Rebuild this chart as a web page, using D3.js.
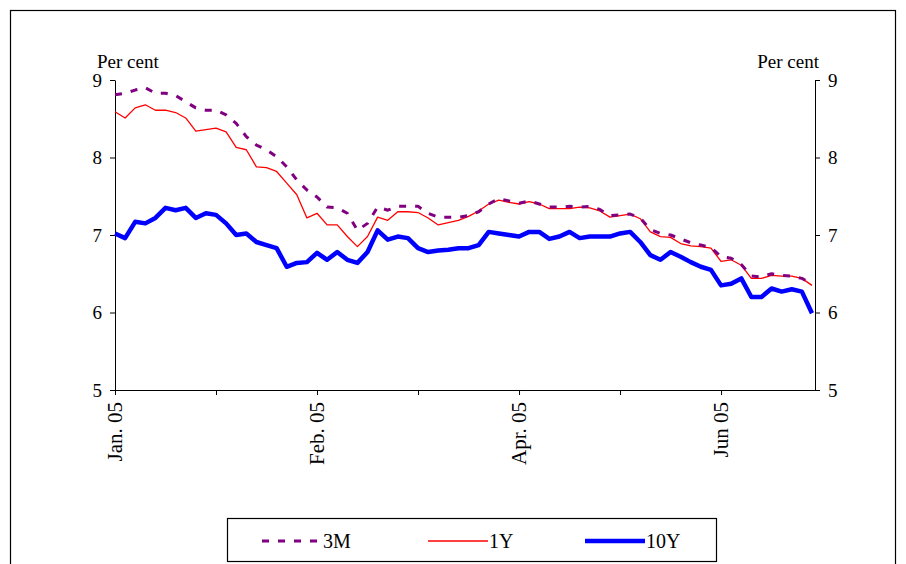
<!DOCTYPE html>
<html>
<head>
<meta charset="UTF-8">
<script src="https://d3js.org/d3.v7.min.js"></script>
<style>
  body { margin: 0; background: #fff; }
  svg text { font-family: "Liberation Serif", "DejaVu Serif", serif !important; fill: #000; }
</style>
</head>
<body>
<svg id="chart" width="906" height="564"></svg>
<script>
// tick labels placed at index positions
const tickLabels = [
  { i: 0, label: "Jan. 05" },
  { i: 20, label: "Feb. 05" },
  { i: 40, label: "Apr. 05" },
  { i: 60, label: "Jun 05" }
];
const rate3M = [8.81, 8.83, 8.87, 8.9, 8.83, 8.83, 8.8, 8.72, 8.64, 8.61,
  8.61, 8.55, 8.44, 8.27, 8.16, 8.1, 8.01, 7.88, 7.71, 7.58,
  7.49, 7.36, 7.35, 7.28, 7.06, 7.15, 7.36, 7.32, 7.37, 7.37,
  7.37, 7.28, 7.23, 7.23, 7.23, 7.25, 7.3, 7.4, 7.47, 7.44,
  7.41, 7.44, 7.4, 7.36, 7.36, 7.37, 7.36, 7.37, 7.33, 7.25,
  7.26, 7.27, 7.22, 7.07, 7.02, 7.0, 6.95, 6.9, 6.87, 6.84,
  6.72, 6.7, 6.62, 6.47, 6.46, 6.5, 6.48, 6.47, 6.44, 6.37];
const rate1Y = [8.59, 8.51, 8.64, 8.68, 8.61, 8.61, 8.58, 8.51, 8.34, 8.36,
  8.38, 8.33, 8.13, 8.1, 7.88, 7.87, 7.82, 7.67, 7.52, 7.22,
  7.28, 7.13, 7.13, 6.98, 6.85, 6.98, 7.23, 7.19, 7.3, 7.3,
  7.29, 7.22, 7.13, 7.16, 7.19, 7.24, 7.31, 7.4, 7.45, 7.42,
  7.4, 7.43, 7.4, 7.34, 7.34, 7.34, 7.36, 7.35, 7.31, 7.23,
  7.25, 7.27, 7.21, 7.04, 6.98, 6.97, 6.89, 6.86, 6.85, 6.83,
  6.66, 6.68, 6.61, 6.44, 6.44, 6.48, 6.47, 6.47, 6.44, 6.35];
const rate10Y = [7.02, 6.96, 7.17, 7.15, 7.22, 7.35, 7.32, 7.35, 7.22, 7.28,
  7.26, 7.15, 7.0, 7.02, 6.91, 6.87, 6.83, 6.59, 6.64, 6.65,
  6.77, 6.68, 6.78, 6.68, 6.64, 6.78, 7.06, 6.94, 6.98, 6.96,
  6.83, 6.78, 6.8, 6.81, 6.83, 6.83, 6.87, 7.04, 7.02, 7.0,
  6.98, 7.04, 7.04, 6.95, 6.98, 7.04, 6.96, 6.98, 6.98, 6.98,
  7.02, 7.04, 6.91, 6.74, 6.68, 6.78, 6.72, 6.65, 6.59, 6.55,
  6.35, 6.37, 6.44, 6.2, 6.2, 6.31, 6.27, 6.3, 6.27, 5.99];
const yTicks = [5, 6, 7, 8, 9];

const svg = d3.select("#chart");
const plotL = 115, plotR = 815, plotT = 80, plotB = 390;

// outer frame
svg.append("rect").attr("x", 10.5).attr("y", 10.5).attr("width", 885).attr("height", 570)
  .attr("fill", "none").attr("stroke", "#000").attr("stroke-width", 1.2);

const x = d3.scaleLinear().domain([0, 69.3]).range([plotL, plotR]);
const y = d3.scaleLinear().domain([5, 9]).range([plotB, plotT]);

// axes
const gl = svg.append("g").attr("transform", `translate(${plotL},0)`)
  .call(d3.axisLeft(y).tickValues(yTicks).tickFormat(d3.format("d")).tickSize(5).tickSizeOuter(0).tickPadding(8));
const gr = svg.append("g").attr("transform", `translate(${plotR},0)`)
  .call(d3.axisRight(y).tickValues(yTicks).tickFormat(d3.format("d")).tickSize(5).tickSizeOuter(0).tickPadding(8));
const gx = svg.append("g").attr("transform", `translate(0,${plotB})`)
  .call(d3.axisBottom(x).tickValues(d3.range(0, 70, 10)).tickSize(5).tickSizeOuter(0).tickFormat(""));
[gl, gr, gx].forEach(g => {
  g.selectAll("path, line").attr("stroke", "#000");
  g.selectAll("text").style("font-size", "19px");
});

svg.append("g").selectAll("text").data(tickLabels).enter().append("text")
  .attr("transform", d => `translate(${x(d.i) + 7},${plotB + 12}) rotate(-90)`)
  .attr("text-anchor", "end")
  .style("font-size", "21px")
  .text(d => d.label);

svg.append("text").attr("x", 97).attr("y", 68).style("font-size", "19px").text("Per cent");
svg.append("text").attr("x", 819).attr("y", 68).attr("text-anchor", "end").style("font-size", "19px").text("Per cent");

const line = d3.line().x((d, i) => x(i)).y(d => y(d));
const series = [
  { name: "3M", data: rate3M, color: "#800080", width: 3, dash: "7,9" },
  { name: "1Y", data: rate1Y, color: "#ff0000", width: 1.3, dash: null },
  { name: "10Y", data: rate10Y, color: "#0000ff", width: 4.5, dash: null }
];
// draw 10Y first, 3M on top of 1Y
[series[2], series[1], series[0]].forEach(s => {
  svg.append("path").datum(s.data).attr("d", line)
    .attr("fill", "none").attr("stroke", s.color).attr("stroke-width", s.width)
    .attr("stroke-dasharray", s.dash).attr("stroke-linejoin", "round");
});

// legend
const lg = svg.append("g");
lg.append("rect").attr("x", 227.5).attr("y", 518.5).attr("width", 489).attr("height", 43)
  .attr("fill", "none").attr("stroke", "#000").attr("stroke-width", 1.2);
const lx = [262, 428, 585];
series.forEach((s, i) => {
  lg.append("line").attr("x1", lx[i]).attr("x2", lx[i] + 60).attr("y1", 541).attr("y2", 541)
    .attr("stroke", s.color).attr("stroke-width", s.width).attr("stroke-dasharray", s.dash);
  lg.append("text").attr("x", lx[i] + 61).attr("y", 548).style("font-size", "20px").text(s.name);
});
</script>
</body>
</html>
